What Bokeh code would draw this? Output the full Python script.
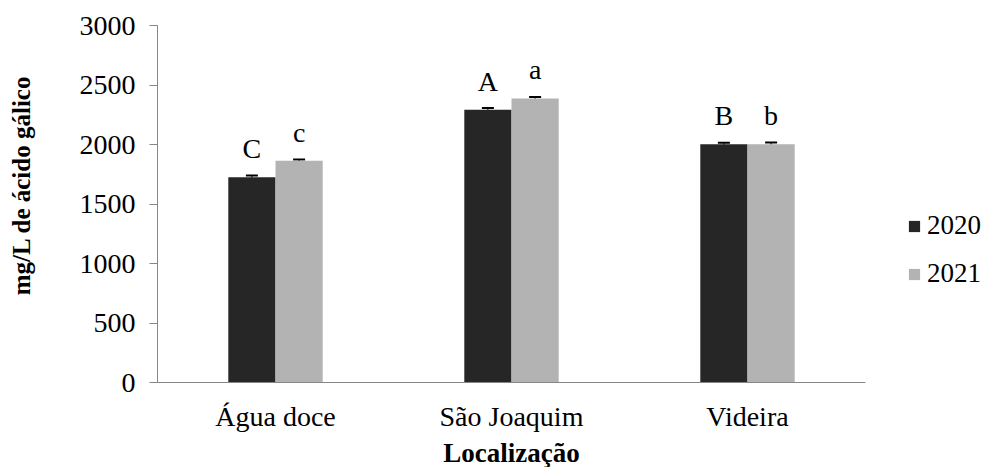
from bokeh.plotting import figure
from bokeh.models import ColumnDataSource, Whisker, TeeHead, Legend, LegendItem, FixedTicker
from bokeh.transform import dodge
from bokeh.core.properties import value
from bokeh.embed import file_html
from bokeh.resources import INLINE

locations = ["Água doce", "São Joaquim", "Videira"]
years = ["2020", "2021"]
values_2020 = [1725, 2292, 2002]
values_2021 = [1864, 2386, 2002]
errors_2020 = [14, 14, 12]
errors_2021 = [10, 14, 14]
letters_2020 = ["C", "A", "B"]
letters_2021 = ["c", "a", "b"]
y_ticks = [0, 500, 1000, 1500, 2000, 2500, 3000]

FONT = "Liberation Serif"
DARK = "#262626"
LIGHT = "#b3b3b3"
AXIS = "#868686"

def make_source(vals, errs, labs):
    return ColumnDataSource(dict(
        loc=locations,
        val=vals,
        upper=[v + e for v, e in zip(vals, errs)],
        lower=[v - e for v, e in zip(vals, errs)],
        lab=labs,
    ))

s20 = make_source(values_2020, errors_2020, letters_2020)
s21 = make_source(values_2021, errors_2021, letters_2021)

p = figure(x_range=locations, y_range=(0, 3000),
           frame_width=708, frame_height=357,
           min_border_left=157, min_border_top=25,
           min_border_right=111, min_border_bottom=80,
           output_backend="svg", toolbar_location=None)
p.outline_line_color = None
p.grid.grid_line_color = None
p.x_range.range_padding = 0

bw = 0.2
r20 = p.vbar(x=dodge("loc", -bw / 2, range=p.x_range), top="val", width=bw,
             source=s20, fill_color=DARK, line_color=None)
r21 = p.vbar(x=dodge("loc", bw / 2, range=p.x_range), top="val", width=bw,
             source=s21, fill_color=LIGHT, line_color=None)

for src, off in ((s20, -bw / 2), (s21, bw / 2)):
    w = Whisker(source=src, base=dodge("loc", off, range=p.x_range),
                upper="upper", lower="lower", line_color="black", line_width=1,
                upper_head=TeeHead(size=12, line_color="black", line_width=2),
                lower_head=TeeHead(size=12, line_color="black", line_width=1))
    p.add_layout(w)
    p.text(x=dodge("loc", off, range=p.x_range), y="upper", text="lab", source=src,
           text_font=value(FONT), text_font_size="28px", text_color="black",
           text_align="center", text_baseline="alphabetic", y_offset=-27)

# axes
p.yaxis.ticker = FixedTicker(ticks=y_ticks)
p.yaxis.minor_tick_line_color = None
p.yaxis.major_tick_out = 8
p.yaxis.major_tick_in = 0
p.yaxis.major_tick_line_color = AXIS
p.yaxis.axis_line_color = AXIS
p.yaxis.major_label_standoff = 14
p.yaxis.axis_label = "\u00a0" * 6 + "mg/L de ácido gálico"
p.yaxis.axis_label_standoff = 42

p.xaxis.major_tick_line_color = None
p.xaxis.minor_tick_line_color = None
p.xaxis.axis_line_color = AXIS
p.xaxis.major_label_standoff = 12
p.xaxis.axis_label = "Localização"
p.xaxis.axis_label_standoff = 3

for ax in (p.xaxis[0], p.yaxis[0]):
    ax.major_label_text_font = FONT
    ax.major_label_text_font_size = "28px"
    ax.major_label_text_color = "black"
    ax.axis_label_text_font = FONT
    ax.axis_label_text_font_style = "bold"
    ax.axis_label_text_color = "black"
p.xaxis.axis_label_text_font_size = "27px"
p.yaxis.axis_label_text_font_size = "25px"

legend = Legend(items=[LegendItem(label=years[0], renderers=[r20]),
                       LegendItem(label=years[1], renderers=[r21])],
                location=(42, 93), orientation="vertical")
legend.padding = 0
legend.margin = 0
legend.border_line_color = None
legend.background_fill_alpha = 0
legend.glyph_width = 14
legend.glyph_height = 14
legend.label_height = 30
legend.spacing = 17
legend.label_standoff = 6
legend.label_text_font = FONT
legend.label_text_font_size = "27px"
legend.label_text_color = "black"
p.add_layout(legend, "right")

open("out.html", "w").write(file_html(p, INLINE))
